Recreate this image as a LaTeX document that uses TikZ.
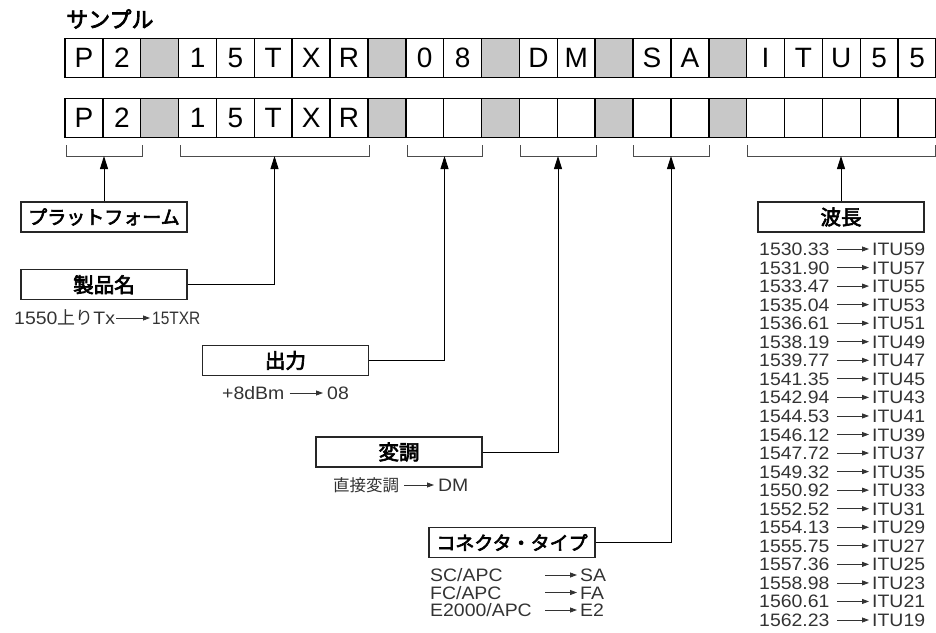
\documentclass[tikz,border=0pt]{standalone}
\usepackage{fontspec}
\setmainfont{Liberation Sans}
\newfontfamily\jp{Noto Sans CJK JP}
\newfontfamily\jpm[FakeBold=3.2]{Noto Sans CJK JP}
\newfontfamily\latw[FakeStretch=1.08]{Liberation Sans}
\newfontfamily\latn[FakeStretch=0.86]{Liberation Sans}
\usetikzlibrary{arrows.meta}
\definecolor{cellgray}{RGB}{200,200,200}
\begin{document}
\begin{tikzpicture}[x=1pt,y=-1pt,
  cell/.style={draw=black, line width=1.5pt, minimum width=37.87pt, minimum height=39pt, inner sep=0pt, font=\fontsize{28}{30}\selectfont},
  bracket/.style={draw=black!70, line width=0.9pt},
  lbox/.style={draw=black!85, line width=1.3pt, minimum width=166pt, minimum height=30pt, inner sep=0pt, font=\jpm\fontsize{20.5}{22}\selectfont},
  kbox/.style={lbox, font=\jpm\fontsize{19}{21}\selectfont},
  conn/.style={draw=black, line width=0.9pt, -{Triangle[length=13pt,width=8pt]}},
  stxt/.style={inner sep=0pt, anchor=west, text height=13pt, text depth=0pt, font=\latw\fontsize{18}{20}\selectfont, text=black!80},
  sarrow/.style={draw=black!80, line width=0.8pt, -{Triangle[length=7pt,width=5pt]}},
]
\useasboundingbox (0,0) rectangle (936,632);

% title
\node[anchor=west, inner sep=0pt, font=\jpm\fontsize{22}{24}\selectfont] (title) at (66,19) {サンプル};

% top row of cells
\foreach \i/\t/\f in {0/P/white,1/2/white,2//cellgray,3/1/white,4/5/white,5/T/white,6/X/white,7/R/white,8//cellgray,9/0/white,10/8/white,11//cellgray,12/D/white,13/M/white,14//cellgray,15/S/white,16/A/white,17//cellgray,18/I/white,19/T/white,20/U/white,21/5/white,22/5/white}
  \node[cell, fill=\f] (t\i) at ({65+(\i+0.5)*37.87},57.8) {\t};

% bottom row of cells
\foreach \i/\t/\f in {0/P/white,1/2/white,2//cellgray,3/1/white,4/5/white,5/T/white,6/X/white,7/R/white,8//cellgray,9//white,10//white,11//cellgray,12//white,13//white,14//cellgray,15//white,16//white,17//cellgray,18//white,19//white,20//white,21//white,22//white}
  \node[cell, fill=\f] (b\i) at ({65+(\i+0.5)*37.87},118.2) {\t};

% brackets
\foreach \l/\r/\n in {66/142/1,180/369/2,407/482/3,520/596/4,633/709/5,747/935/6}{
  \draw[bracket] (\l,145) -- (\l,156) -- (\r,156) -- (\r,145);
  \coordinate (tip\n) at ({(\l+\r)/2},156);
}

% label boxes
\node[kbox] (plat) at (104,217) {プラットフォーム};
\node[lbox] (prod) at (104,284.7) {製品名};
\node[lbox] (outp) at (285.5,360.5) {出力};
\node[lbox] (modu) at (399,452) {変調};
\node[kbox] (ctype) at (512,542.5) {コネクタ・タイプ};
\node[lbox] (wave) at (841,217) {波長};

% connectors
\draw[conn] (plat.north) -- (tip1);
\draw[conn] (prod.east) -| (tip2);
\draw[conn] (outp.east) -| (tip3);
\draw[conn] (modu.east) -| (tip4);
\draw[conn] (ctype.east) -| (tip5);
\draw[conn] (wave.north) -- (tip6);

% product name example
\node[stxt] (p1) at (14,318) {1550{\jp 上り}Tx};
\node[stxt, font=\latn\fontsize{18}{20}\selectfont] (p2) at (152,318) {15TXR};
\draw[sarrow] ([xshift=1pt]p1.east) -- ([xshift=-2pt]p2.west);

% output example
\node[stxt] (o1) at (222,393) {+8dBm};
\node[stxt] (o2) at (327,393) {08};
\draw[sarrow] ([xshift=5pt]o1.east) -- ([xshift=-4pt]o2.west);

% modulation example
\node[stxt, font=\jp\fontsize{16.5}{20}\selectfont] (m1) at (333,485) {直接変調};
\node[stxt] (m2) at (438,485) {DM};
\draw[sarrow] ([xshift=5pt]m1.east) -- ([xshift=-4pt]m2.west);

% connector types
\foreach \k/\a/\b in {0/SC\slash APC/SA,1/FC\slash APC/FA,2/E2000\slash APC/E2}{
  \node[stxt, text width=111pt, align=left] (cl\k) at (430,{575+\k*17.5}) {\a};
  \node[stxt] (cr\k) at (580,{575+\k*17.5}) {\b};
  \draw[sarrow] ([xshift=4pt]cl\k.east) -- ([xshift=-3pt]cr\k.west);
}

% wavelengths
\foreach \k/\a/\b in {0/1530.33/ITU59,1/1531.90/ITU57,2/1533.47/ITU55,3/1535.04/ITU53,4/1536.61/ITU51,5/1538.19/ITU49,6/1539.77/ITU47,7/1541.35/ITU45,8/1542.94/ITU43,9/1544.53/ITU41,10/1546.12/ITU39,11/1547.72/ITU37,12/1549.32/ITU35,13/1550.92/ITU33,14/1552.52/ITU31,15/1554.13/ITU29,16/1555.75/ITU27,17/1557.36/ITU25,18/1558.98/ITU23,19/1560.61/ITU21,20/1562.23/ITU19}{
  \node[stxt, text width=74pt, align=left] (wl\k) at (759,{249+\k*18.55}) {\a};
  \node[stxt] (wr\k) at (872,{249+\k*18.55}) {\b};
  \draw[sarrow] ([xshift=4pt]wl\k.east) -- ([xshift=-3pt]wr\k.west);
}
\end{tikzpicture}
\end{document}
